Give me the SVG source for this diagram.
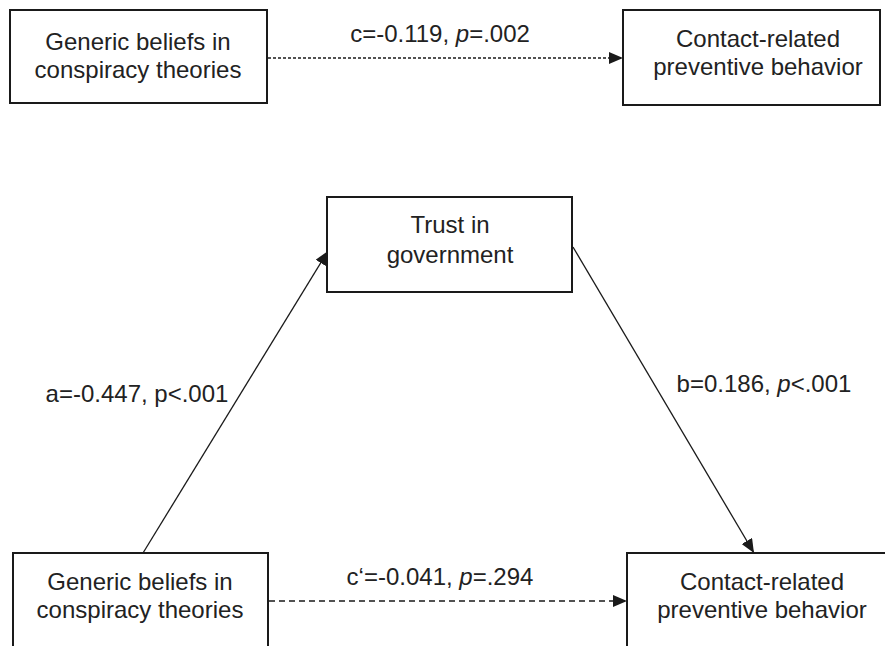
<svg xmlns="http://www.w3.org/2000/svg" width="885" height="646" viewBox="0 0 885 646">
<style>
.box{fill:#fff;stroke:#1a1a1a;stroke-width:2}
.t{font-family:"Liberation Sans","Open Sans",sans-serif;font-size:24px;fill:#222;text-anchor:middle}
.c{stroke:#1a1a1a;stroke-width:1.3;fill:none}
.d1{stroke-dasharray:3 2}
.d2{stroke-dasharray:6 4}
</style>
<defs>
<marker id="ah" markerWidth="14" markerHeight="12" refX="14" refY="6" orient="auto" markerUnits="userSpaceOnUse">
<path d="M0,0 L14,6 L0,12 Z" fill="#1a1a1a"/>
</marker>
</defs>
<rect width="885" height="646" fill="#fff"/>
<g id="connectors">
<line class="c d1" x1="268" y1="58" x2="623" y2="58" marker-end="url(#ah)"/>
<line class="c" x1="143" y1="553" x2="328" y2="251" marker-end="url(#ah)"/>
<line class="c" x1="573" y1="247" x2="754" y2="553" marker-end="url(#ah)"/>
<line class="c d2" x1="269" y1="601" x2="627" y2="601" marker-end="url(#ah)"/>
<text class="t" x="440" y="42">c=-0.119, <tspan font-style="italic">p</tspan>=.002</text>
<text class="t" x="137" y="402">a=-0.447, p&lt;.001</text>
<text class="t" x="764" y="392">b=0.186, <tspan font-style="italic">p</tspan>&lt;.001</text>
<text class="t" x="440" y="585">c‘=-0.041, <tspan font-style="italic">p</tspan>=.294</text>
</g>
<g id="node-top-left">
<rect class="box" x="10" y="10" width="257" height="93"/>
<text class="t" x="138" y="50">Generic beliefs in</text>
<text class="t" x="138" y="78">conspiracy theories</text>
</g>
<g id="node-top-right">
<rect class="box" x="623" y="10" width="257" height="95"/>
<text class="t" x="758" y="47">Contact-related</text>
<text class="t" x="758" y="75">preventive behavior</text>
</g>
<g id="node-trust">
<rect class="box" x="327" y="197" width="245" height="95"/>
<text class="t" x="450" y="233">Trust in</text>
<text class="t" x="450" y="263">government</text>
</g>
<g id="node-bottom-left">
<rect class="box" x="13" y="553" width="255" height="110"/>
<text class="t" x="140" y="590">Generic beliefs in</text>
<text class="t" x="140" y="618">conspiracy theories</text>
</g>
<g id="node-bottom-right">
<rect class="box" x="627" y="553" width="270" height="110"/>
<text class="t" x="762" y="590">Contact-related</text>
<text class="t" x="762" y="618">preventive behavior</text>
</g>
</svg>
